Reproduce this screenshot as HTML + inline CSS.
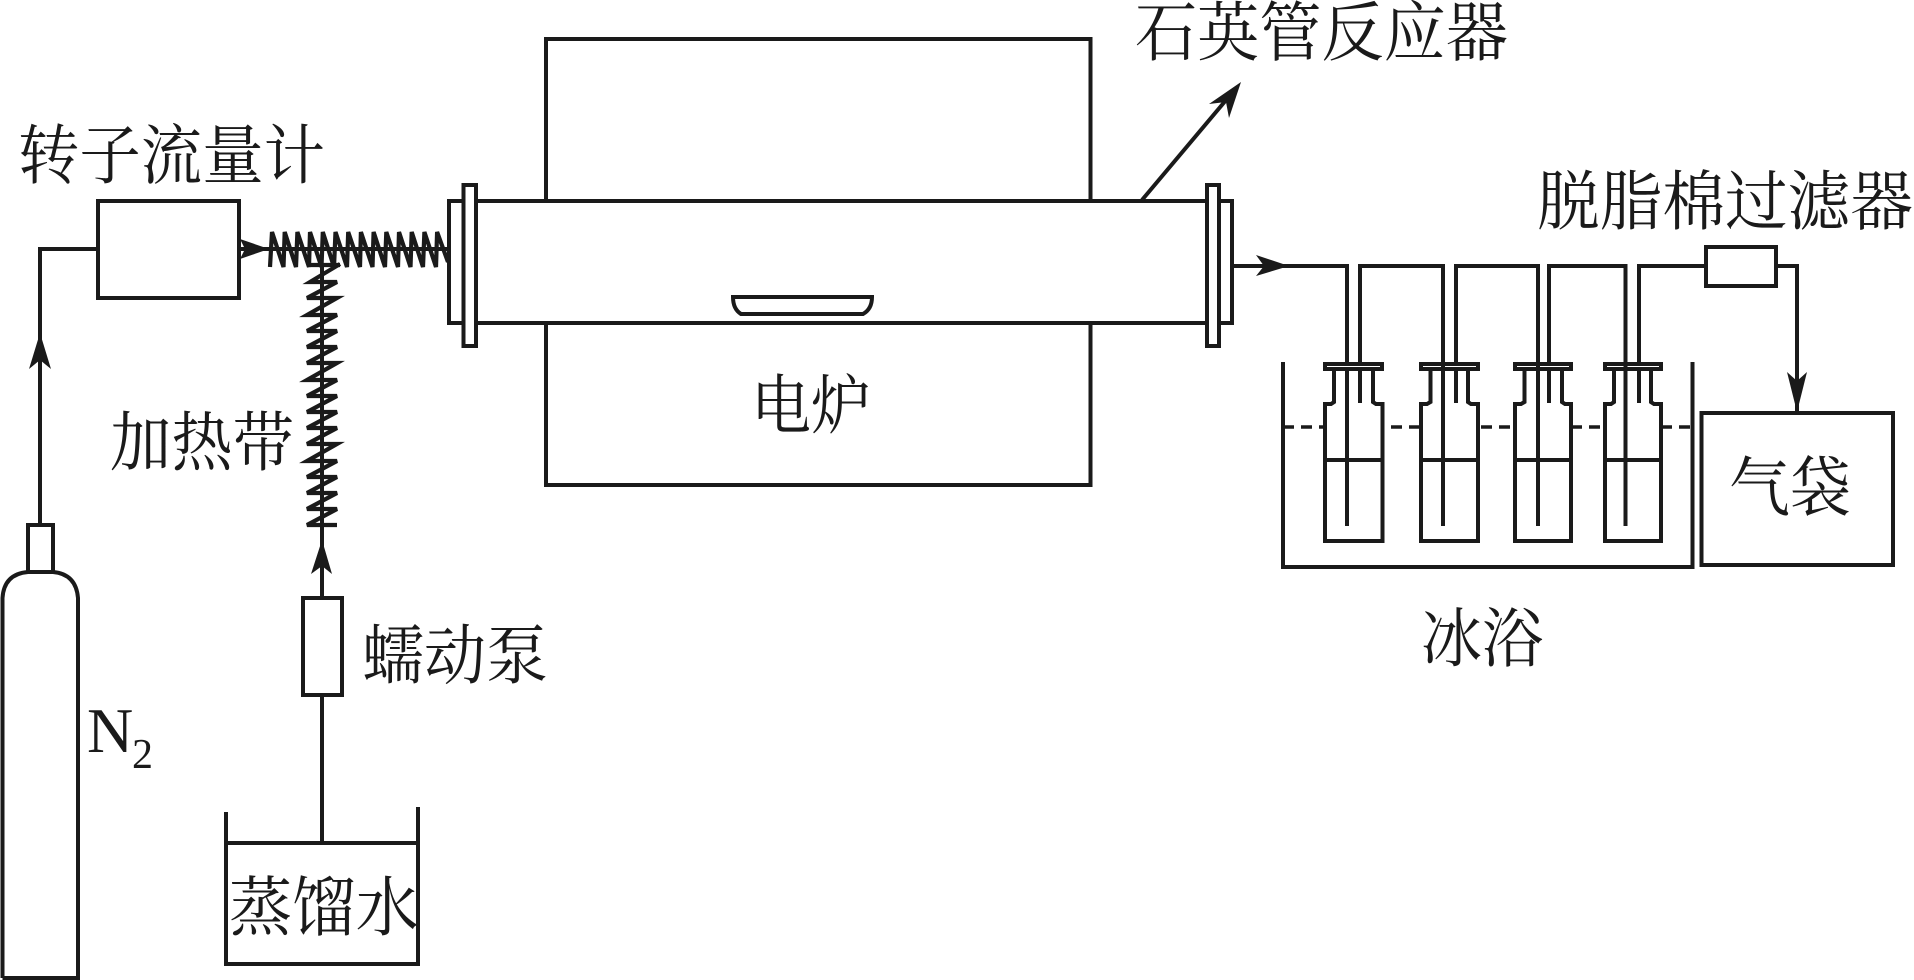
<!DOCTYPE html>
<html lang="zh">
<head>
<meta charset="utf-8">
<title>Diagram</title>
<style>
html,body{margin:0;padding:0;background:#fff;width:1914px;height:980px;overflow:hidden}
svg{display:block}
text{font-family:"Liberation Serif","Noto Serif CJK SC",serif;fill:#1a1a1a;font-size:65px;font-weight:400}
.l{fill:none;stroke:#1a1a1a;stroke-width:4}
.w{fill:#fff;stroke:#1a1a1a;stroke-width:4}
.c{fill:none;stroke:#1a1a1a;stroke-width:4.2;stroke-linejoin:miter}
.a{fill:#1a1a1a;stroke:none}
</style>
</head>
<body>
<svg width="1914" height="980" viewBox="0 0 1914 980" xmlns="http://www.w3.org/2000/svg">
<rect width="1914" height="980" fill="#fff"/>

<!-- cylinder -->
<path class="l" d="M2.5,978 V598 Q4,574 28,572 H53 Q76,574 78,598 V978 H2.5"/>
<path class="l" d="M28,572 V525 H53 V572"/>
<path class="l" d="M40,525 V249 H98"/>
<polygon class="a" points="40,333 51,369 40,360 29,369"/>
<rect class="l" x="98" y="201" width="141" height="97"/>

<!-- horizontal coil -->
<path class="l" d="M239,249 H449"/>
<polygon class="a" points="269,249 240,239 245,249 240,259"/>
<polyline class="c" points="270,267 272,232 283.5,267 284.7,232 296,267 297.4,232 309,267 310,232 321.5,267 322.8,232 334,267 335.5,232 347,267 348.2,232 360,267 360.9,232 372.5,267 373.6,232 385,267 386.3,232 398,267 399,232 410.5,267 411.7,232 423,267 424.4,232 436,267 437.1,232 448,262"/>

<!-- vertical coil -->
<path class="l" d="M322,265 V843"/>
<path class="c" d="M310,265 H340"/>
<polyline class="c" points="337,525 307,525 337,509 307,509 337,493 307,493 337,477 307,477 337,461 307,461 337,444 307,444 337,428 307,428 337,412 307,412 337,396 307,396 337,380 307,380 337,363 307,363 337,347 307,347 337,331 307,331 337,315 307,315 337,298 307,298 337,282 310,282 340,264"/>
<polygon class="a" points="322,540 332,574 322,566 311,574"/>
<rect class="w" x="303" y="598" width="39" height="97"/>

<!-- beaker -->
<path class="l" d="M226,812 V964 H418 V807"/>
<path class="l" d="M226,843 H418"/>

<!-- furnace -->
<rect class="l" x="546" y="39" width="544.5" height="446"/>
<rect class="w" x="449" y="201" width="783" height="122"/>
<rect class="w" x="463.5" y="185" width="12.5" height="161"/>
<rect class="w" x="1207" y="185" width="12" height="161"/>
<path class="l" d="M733,297 H872 Q872,309 863,314 H741 Q733,309 733,297 Z"/>

<!-- quartz arrow -->
<path class="l" d="M1142,200 L1232,93"/>
<polygon class="a" points="1241,82 1229,118 1226,102 1209,104"/>

<!-- outlet and tubes -->
<path class="l" d="M1232,266 H1347 V526"/>
<polygon class="a" points="1289,266 1256,255 1264,266 1256,276"/>
<path class="l" d="M1360,403 V266 H1443 V526"/>
<path class="l" d="M1456,403 V266 H1538 V526"/>
<path class="l" d="M1549,403 V266 H1625.5 V526"/>
<path class="l" d="M1639,403 V266 H1706"/>
<rect class="w" x="1706" y="247" width="70" height="39"/>
<path class="l" d="M1776,266 H1797 V412"/>
<polygon class="a" points="1797,412 1787,372 1797,381 1807,372"/>
<rect class="l" x="1701.5" y="413" width="191.5" height="152"/>

<!-- bath -->
<path class="l" d="M1283,362 V567 H1692.5 V362"/>
<path d="M1283,427 H1692" fill="none" stroke="#1a1a1a" stroke-width="3.5" stroke-dasharray="11 7"/>

<!-- bottles -->
<g>
<path class="w" d="M1325,541 V404 H1331 L1334,402 V368 H1373 V402 L1376,404 H1382.5 V541 Z"/>
<path class="w" d="M1421,541 V404 H1427 L1430.5,402 V368 H1468 V402 L1471,404 H1478 V541 Z"/>
<path class="w" d="M1515,541 V404 H1521 L1524.5,402 V368 H1562 V402 L1565,404 H1571 V541 Z"/>
<path class="w" d="M1605,541 V404 H1611 L1614,402 V368 H1651 V402 L1654,404 H1661 V541 Z"/>
<path class="l" d="M1325,460 H1382.5 M1421,460 H1478 M1515,460 H1571 M1605,460 H1661"/>
<path class="l" d="M1347,340 V526 M1360,340 V403 M1456,340 V403 M1549,340 V403 M1639,340 V403"/>
<rect class="w" x="1325" y="364" width="57" height="5"/>
<rect class="w" x="1421" y="364" width="57" height="5"/>
<rect class="w" x="1515" y="364" width="56" height="5"/>
<rect class="w" x="1605" y="364" width="56" height="5"/>
<path class="l" d="M1443,340 V526 M1538,340 V526 M1625.5,340 V526"/>
</g>

<!-- labels -->
<text x="18" y="178" textLength="307" lengthAdjust="spacingAndGlyphs">转子流量计</text>
<text x="110" y="465" textLength="184" lengthAdjust="spacingAndGlyphs">加热带</text>
<text x="362" y="678" textLength="186" lengthAdjust="spacingAndGlyphs">蠕动泵</text>
<text x="229" y="930" textLength="190" lengthAdjust="spacingAndGlyphs">蒸馏水</text>
<text x="751" y="428" textLength="120" lengthAdjust="spacingAndGlyphs">电炉</text>
<text x="1135" y="55" textLength="373" lengthAdjust="spacingAndGlyphs">石英管反应器</text>
<text x="1537" y="224" textLength="376" lengthAdjust="spacingAndGlyphs">脱脂棉过滤器</text>
<text x="1729" y="510" textLength="122" lengthAdjust="spacingAndGlyphs">气袋</text>
<text x="1421" y="661" textLength="122" lengthAdjust="spacingAndGlyphs">冰浴</text>
<text x="87" y="752" style="font-size:64px">N</text>
<text x="132" y="768" style="font-size:42px">2</text>
</svg>
</body>
</html>
